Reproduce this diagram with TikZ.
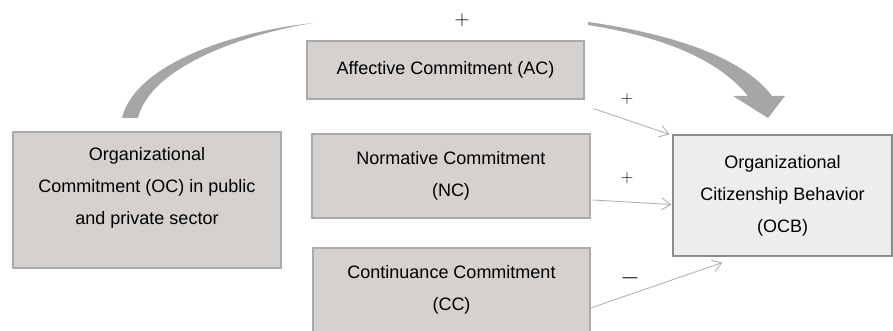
\documentclass[tikz,border=0pt]{standalone}
\usepackage[no-math]{fontspec}
\setmainfont{Liberation Sans}
\usetikzlibrary{arrows.meta}

\definecolor{boxfill}{RGB}{212,209,207}
\definecolor{boxline}{RGB}{170,170,170}
\definecolor{ocbfill}{RGB}{237,237,237}
\definecolor{ocbline}{RGB}{140,140,140}
\definecolor{bandgray}{RGB}{166,166,166}
\definecolor{linkgray}{RGB}{178,178,178}

\tikzset{
  box/.style    ={fill=boxfill, draw=boxline, line width=1.2pt, align=center, inner sep=0pt},
  outbox/.style ={fill=ocbfill, draw=ocbline, line width=1.2pt, align=center, inner sep=0pt},
  link/.style   ={-{Straight Barb[length=9pt,width=12pt]}, draw=linkgray, line width=0.9pt},
  sign/.style   ={font=\fontsize{18}{18}\selectfont, inner sep=0pt},
  band/.style   ={fill=bandgray}
}

\begin{document}
\begin{tikzpicture}[x=1pt, y=-1pt, every node/.style={font=\fontsize{18}{32}\selectfont}]
    \useasboundingbox (0,0) rectangle (893,331);

    % independent variable
    \node[box, minimum width=268pt, minimum height=136pt] (oc) at (147,200) {};
    \node[align=center] (octext) at ([yshift=12pt]oc.center)
        {Organizational\\Commitment (OC) in public\\and private sector};

    % the three components
    \node[box, minimum width=277pt, minimum height=58pt] (ac) at (445.5,70) {Affective Commitment (AC)};
    \node[box, minimum width=278pt, minimum height=84pt] (nc) at (451,176) {Normative Commitment\\(NC)};
    \node[box, minimum width=277pt, minimum height=84pt] (cc) at (451.5,290) {Continuance Commitment\\(CC)};

    % outcome
    \node[outbox, minimum width=219pt, minimum height=121pt] (ocb) at (782.5,195.5)
        {Organizational\\Citizenship Behavior\\(OCB)};

    % direct effect band
    \fill[band] (122,118) .. controls (135,65) and (230,32) .. (313,23)
        .. controls (240,35) and (150,68) .. (138,118) -- cycle;
    \fill[band] (588,22) .. controls (680,35) and (745,60) .. (772,96)
        -- (785,96) -- (768,118) -- (733,96) -- (748,96)
        .. controls (720,62) and (670,38) .. (588,25) -- cycle;
    \node[sign, font=\fontsize{21}{21}\selectfont] (pdirect) at (462,20) {$+$};

    % component links
    \draw[link] ([shift={(9pt,-9pt)}]ac.south east) -- ([xshift=-3pt]ocb.north west);
    \draw[link] ([shift={(2pt,-24pt)}]nc.east) -- ([shift={(-1pt,-9pt)}]ocb.west);
    \draw[link] ([yshift=-18pt]cc.east) -- ([shift={(50pt,-6pt)}]ocb.south west);
    \node[sign] (pac) at (627,99) {$+$};
    \node[sign] (pnc) at (627,178) {$+$};
    \node[sign, font=\fontsize{25}{25}\selectfont] (mcc) at (630,278) {$-$};
\end{tikzpicture}
\end{document}
